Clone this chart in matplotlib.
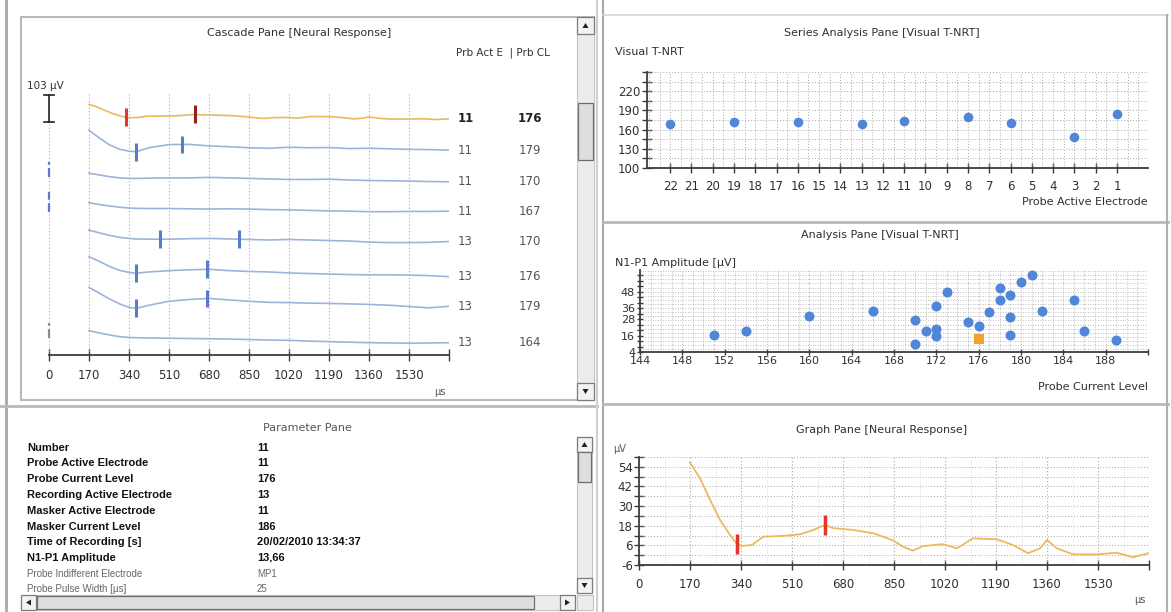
import numpy as np
import matplotlib
matplotlib.use('Agg')
import matplotlib.pyplot as plt
from matplotlib.patches import Rectangle, Polygon

W, H = 1171, 612

# ----------------------------
# Data
# ----------------------------
# selected recording (graph pane, also first row of cascade)
graph_t = [170, 203, 237, 270, 303, 326, 342, 376, 414, 481, 537, 581, 620, 648, 714, 781,
           847, 880, 913, 947, 1013, 1060, 1113, 1193, 1247, 1297, 1337, 1360, 1393, 1447,
           1527, 1593, 1647, 1697]
graph_uv = [56.6, 47.1, 33.8, 21.6, 12.4, 6.9, 5.6, 6.2, 11.3, 11.8, 12.8, 15.4, 18.5, 16.5,
            15.4, 13.4, 9.0, 5.2, 2.8, 5.6, 6.7, 4.2, 10.3, 9.7, 6.2, 1.2, 4.2, 9.3, 4.2,
            0.5, 0.5, 1.5, -1.3, 1.2]
graph_n1_t = 326
graph_p1_t = 620

# cascade pane rows
cascade_prb_act_e = [11, 11, 11, 11, 13, 13, 13, 13]
cascade_prb_cl = [176, 179, 170, 167, 170, 176, 179, 164]
cascade_offsets = [900, 795, 676, 559, 445, 317, 210, 65]   # µV, display offset per row
cascade_t = [170, 210, 255, 300, 340, 370, 425, 510, 595, 680, 765, 850, 935, 1020, 1105,
             1190, 1275, 1360, 1445, 1530, 1615, 1700]
cascade_rows = [
    [63, 36, 8, -10, -17, -19, -4, 8, 9, 3, 0, -4, -6, -2, -4, -3, -7, -6, -8, -10, -11, -13],
    [18, 12, 5, 0, -2, -2, -1, 0, 0, 2, 0, -2, -4, -6, -6, -5, -8, -10, -11, -12, -14, -15],
    [22, 16, 10, 5, 2, 1, 0, 0, -1, -2, -1, -2, -4, -5, -7, -9, -10, -12, -12, -11, -11, -10],
    [32, 22, 12, 4, 0, -2, -3, -3, -1, 0, -2, -4, -6, -4, -6, -8, -10, -14, -16, -16, -15, -12],
    [58, 42, 22, 6, -2, -5, 0, 5, 8, 10, 5, 2, 0, -4, -6, -8, -10, -11, -11, -12, -14, -18],
    [48, 28, 5, -15, -28, -32, -20, -5, 2, 6, 0, -5, -9, -10, -12, -13, -15, -17, -20, -25, -30, -24],
    [28, 20, 12, 5, 2, 1, 0, -1, -2, -3, -4, -6, -8, -9, -12, -14, -16, -18, -19, -20, -19, -18],
]
cascade_n1_t = [326, 370, None, None, 472, 370, 370, None]
cascade_p1_t = [620, 566, None, None, 808, 671, 671, None]
cascade_zero_marks = [(679, 737, 'b'), (546, 622, 'b'), (65, 122, 'g')]
scale_uv = 103
scale_base = 889

time_ticks = list(range(0, 1701, 170))
time_labels = [str(t) for t in time_ticks[:-1]] + ['']

# series analysis pane
series_electrode = [22, 19, 16, 13, 11, 8, 6, 3, 1]
series_tnrt = [169, 172, 172, 169, 174, 179, 171, 149, 185]
series_yticks = list(range(100, 251, 15))
series_ylabels = ['100', '', '130', '', '160', '', '190', '', '220', '', '']

# analysis pane
analysis_cl = [151, 154, 160, 166, 170, 170, 171, 172, 172, 172, 173, 175, 176, 177, 178,
               178, 179, 179, 179, 180, 181, 182, 185, 186, 189]
analysis_amp = [16.2, 19.1, 30.1, 33.7, 27.1, 9.6, 19.1, 37.9, 21.1, 15.5, 47.8, 25.9, 22.8,
                33.2, 50.7, 42.2, 45.4, 29.5, 16.2, 54.7, 60.5, 33.9, 41.7, 19.1, 13.1]
selected_cl = 176
selected_amp = 13.66
analysis_xticks = list(range(144, 193, 4))
analysis_yticks = list(range(4, 61, 4))
analysis_ylabels = ['4', '', '', '16', '', '', '28', '', '36', '', '', '48', '', '', '']

graph_yticks = list(range(-6, 61, 6))
graph_ylabels = ['-6', '', '6', '', '18', '', '30', '', '42', '', '54', '']

# parameter pane
param_names = ['Number', 'Probe Active Electrode', 'Probe Current Level',
               'Recording Active Electrode', 'Masker Active Electrode', 'Masker Current Level',
               'Time of Recording [s]', 'N1-P1 Amplitude', 'Probe Indifferent Electrode',
               'Probe Pulse Width [µs]']
param_values = ['11', '11', '176', '13', '11', '186', '20/02/2010 13:34:37', '13,66', 'MP1', '25']

# ----------------------------
# Style
# ----------------------------
FRAME = '#b9b9b9'
AXIS = '#3c3c3c'
GRID = '#a9a9a9'
TXT = '#303030'
ORANGE = '#ebb95f'
TRACE_BLUE = '#9db4d9'
MARK_BLUE = '#5a7cc8'
RED = '#e2352c'
DARK_RED = '#9a2020'
DOT_BLUE = '#4f86d9'
DOT_ORANGE = '#f0a22e'
FS = 8.5

plt.rcParams['font.family'] = ['DejaVu Sans']

fig = plt.figure(figsize=(W / 100, H / 100), dpi=100)
fig.patch.set_facecolor('white')

bg = fig.add_axes([0, 0, 1, 1])
bg.set_xlim(0, W)
bg.set_ylim(H, 0)
bg.axis('off')


def px_axes(l, t, r, b):
    return fig.add_axes([l / W, 1 - b / H, (r - l) / W, (b - t) / H])


def style_axes(ax, length=7, pad=5.5, ypad=1):
    ax.set_facecolor('none')
    for s in ['top', 'right']:
        ax.spines[s].set_visible(False)
    for s in ['left', 'bottom']:
        ax.spines[s].set_color(AXIS)
        ax.spines[s].set_linewidth(1.3)
    ax.tick_params(direction='inout', length=length, width=1, colors=AXIS,
                   labelsize=FS, labelcolor=TXT)
    ax.tick_params(axis='x', pad=pad)
    ax.tick_params(axis='y', pad=ypad)


def vscroll(x0, x1, y0, y1, th0, th1):
    w = x1 - x0
    bg.add_patch(Rectangle((x0, y0), w, y1 - y0, fc='#ececec', ec='#c4c4c4', lw=0.8))
    for yb, up in [(y0, True), (y1 - w, False)]:
        bg.add_patch(Rectangle((x0, yb), w, w, fc='#f2f2f2', ec='#7c7c7c', lw=0.9))
        cx, cy = x0 + w / 2, yb + w / 2
        d = 2.5 if up else -2.5
        bg.add_patch(Polygon([(cx - 3, cy + d), (cx + 3, cy + d), (cx, cy - d)], fc='#202020'))
    bg.add_patch(Rectangle((x0 + 1, th0), w - 2, th1 - th0, fc='#dedede', ec='#6e6e6e', lw=0.9))


def hscroll(x0, x1, y0, y1, th0, th1):
    h = y1 - y0
    bg.add_patch(Rectangle((x0, y0), x1 - x0, h, fc='#ececec', ec='#c4c4c4', lw=0.8, zorder=5))
    for xb, left in [(x0, True), (x1 - h, False)]:
        bg.add_patch(Rectangle((xb, y0), h, h, fc='#f2f2f2', ec='#7c7c7c', lw=0.9, zorder=6))
        cx, cy = xb + h / 2, y0 + h / 2
        d = 2.5 if left else -2.5
        bg.add_patch(Polygon([(cx + d, cy - 3), (cx + d, cy + 3), (cx - d, cy)], fc='#202020', zorder=7))
    bg.add_patch(Rectangle((th0, y0 + 1), th1 - th0, h - 2, fc='#dedede', ec='#6e6e6e', lw=0.9, zorder=6))


# ----------------------------
# Frames / window chrome
# ----------------------------
bg.plot([6, 6], [0, H], color='#a8a8a8', lw=2)
bg.add_patch(Rectangle((21, 17), 573, 383, fill=False, ec=FRAME, lw=1.5))
bg.plot([0, 597], [406, 406], color=FRAME, lw=2)
bg.plot([597, 597], [0, H], color='#d0d0d0', lw=1.5)
bg.plot([603, 603], [0, H], color='#a8a8a8', lw=1.5)
bg.plot([603, 1168], [15, 15], color='#d4d4d4', lw=1.2)
bg.plot([603, 1168], [222, 222], color=FRAME, lw=2)
bg.plot([603, 1168], [404, 404], color=FRAME, lw=2)
bg.plot([1167, 1167], [15, H], color='#b0b0b0', lw=1.5)

vscroll(577, 594, 17, 400, 103, 160)
vscroll(577, 592, 437, 593, 452, 482)
hscroll(21, 575, 595, 610, 37, 534)
bg.add_patch(Rectangle((577, 595), 16, 15, fc='#ececec', ec='#c4c4c4', lw=0.8, zorder=5))

# titles
bg.text(299, 33, 'Cascade Pane [Neural Response]', ha='center', va='center', fontsize=8, color=TXT)
bg.text(882, 33, 'Series Analysis Pane [Visual T-NRT]', ha='center', va='center', fontsize=8, color=TXT)
bg.text(880, 235, 'Analysis Pane [Visual T-NRT]', ha='center', va='center', fontsize=8, color=TXT)
bg.text(882, 430, 'Graph Pane [Neural Response]', ha='center', va='center', fontsize=8, color=TXT)
bg.text(307, 428, 'Parameter Pane', ha='center', va='center', fontsize=8, color='#555555')

# ----------------------------
# Cascade pane
# ----------------------------
ax_c = px_axes(49, 93, 449, 355)
ax_c.set_xlim(0, 1700)
ax_c.set_ylim(0, 1000)
style_axes(ax_c, length=8, pad=6)
ax_c.spines['left'].set_visible(False)
ax_c.set_yticks([])
ax_c.set_xticks(time_ticks)
ax_c.set_xticklabels(time_labels)
ax_c.vlines(time_ticks[1:], 0, 1000, colors=GRID, linestyles=(0, (1, 2)), lw=0.8)
ax_c.vlines([0], 0, scale_base - 4, colors=GRID, linestyles=(0, (1, 2)), lw=0.8)

for lo, hi, c in cascade_zero_marks:
    ax_c.plot([0, 0], [lo, hi], color=MARK_BLUE if c == 'b' else '#8a8a8a', lw=1.6,
              ls=(0, (4, 1.5)), clip_on=False)

# scale bar
ax_c.plot([0, 0], [scale_base, scale_base + scale_uv], color='#202020', lw=1.2, clip_on=False)
ax_c.plot([-22, 22], [scale_base, scale_base], color='#202020', lw=1.2, clip_on=False)
ax_c.plot([-22, 22], [scale_base + scale_uv, scale_base + scale_uv], color='#202020', lw=1.2, clip_on=False)
bg.text(27, 86, '103 µV', va='center', fontsize=7.5, color=TXT)
bg.text(456, 53, 'Prb Act E  | Prb CL', va='center', fontsize=7.5, color=TXT)

for i in range(8):
    if i == 0:
        t, v, col = graph_t, graph_uv, ORANGE
    else:
        t, v, col = cascade_t, cascade_rows[i - 1], TRACE_BLUE
    off = cascade_offsets[i]
    ax_c.plot(t, np.array(v) + off, color=col, lw=1.2, zorder=3)
    for tt, mcol in [(cascade_n1_t[i], RED if i == 0 else MARK_BLUE),
                     (cascade_p1_t[i], DARK_RED if i == 0 else MARK_BLUE)]:
        if tt is None:
            continue
        yc = off + np.interp(tt, t, v)
        ax_c.plot([tt, tt], [yc - 34, yc + 34], color=mcol, lw=2.2, solid_capstyle='butt', zorder=4)
    ye = off + v[-1]
    w = 'bold' if i == 0 else 'normal'
    ax_c.text(1735, ye, str(cascade_prb_act_e[i]), va='center', ha='left', fontsize=FS,
              color='#222222' if i == 0 else '#555555', weight=w, clip_on=False)
    ax_c.text(2045, ye, str(cascade_prb_cl[i]), va='center', ha='center', fontsize=FS,
              color='#222222' if i == 0 else '#555555', weight=w, clip_on=False)
bg.text(440, 392, 'µs', ha='center', va='center', fontsize=7, color='#555555')

# ----------------------------
# Series analysis pane
# ----------------------------
ax_s = px_axes(646.6, 72, 1148, 168)
ax_s.set_xlim(23.11, -0.46)
ax_s.set_ylim(100, 250)
style_axes(ax_s, length=7, pad=5.5)
ax_s.set_xticks(list(range(22, 0, -1)))
ax_s.set_xticklabels([str(e) for e in range(22, 0, -1)])
ax_s.set_yticks(series_yticks)
ax_s.set_yticklabels(series_ylabels)
ax_s.vlines(np.arange(0, 23.01, 0.5), 100, 250, colors=GRID, linestyles=(0, (1, 2)), lw=0.7)
ax_s.hlines(series_yticks[1:], -0.46, 23.11, colors=GRID, linestyles=(0, (1, 2)), lw=0.7)
ax_s.scatter(series_electrode, series_tnrt, s=48, color=DOT_BLUE, zorder=4, linewidths=0)
bg.text(615, 52, 'Visual T-NRT', va='center', fontsize=8, color=TXT)
bg.text(1148, 202, 'Probe Active Electrode', ha='right', va='center', fontsize=8, color=TXT)

# ----------------------------
# Analysis pane
# ----------------------------
ax_a = px_axes(640, 270, 1148, 352)
ax_a.set_xlim(144, 192)
ax_a.set_ylim(4, 63.8)
style_axes(ax_a, length=5, pad=0.5)
ax_a.tick_params(labelsize=8)
ax_a.set_xticks(analysis_xticks)
ax_a.set_xticklabels([str(x) for x in analysis_xticks[:-1]] + [''])
ax_a.set_yticks(analysis_yticks)
ax_a.set_yticklabels(analysis_ylabels)
ax_a.vlines(np.arange(145, 193, 1), 4, 63.8, colors=GRID, linestyles=(0, (1, 2)), lw=0.6)
ax_a.hlines(np.arange(6, 64, 3), 144, 192, colors=GRID, linestyles=(0, (1, 2)), lw=0.6)
ax_a.scatter(analysis_cl, analysis_amp, s=52, color=DOT_BLUE, zorder=4, linewidths=0, clip_on=False)
ax_a.scatter([selected_cl], [selected_amp], s=52, color=DOT_ORANGE, marker='s', zorder=5, linewidths=0)
bg.text(615, 263, 'N1-P1 Amplitude [µV]', va='center', fontsize=8, color=TXT)
bg.text(1148, 387, 'Probe Current Level', ha='right', va='center', fontsize=8, color=TXT)

# ----------------------------
# Graph pane
# ----------------------------
ax_g = px_axes(639, 457, 1149, 565)
ax_g.set_xlim(0, 1700)
ax_g.set_ylim(-6, 60)
style_axes(ax_g, length=7, pad=5.5)
ax_g.set_xticks(time_ticks)
ax_g.set_xticklabels(time_labels)
ax_g.set_yticks(graph_yticks)
ax_g.set_yticklabels(graph_ylabels)
ax_g.vlines(time_ticks[1:], -6, 60, colors=GRID, linestyles=(0, (1, 2)), lw=0.8)
ax_g.vlines(np.arange(85, 1700, 170), -6, 60, colors='#cfcfcf', linestyles=(0, (1, 2)), lw=0.6)
ax_g.hlines(graph_yticks[1:], 0, 1700, colors=GRID, linestyles=(0, (1, 2)), lw=0.7)
ax_g.plot(graph_t, graph_uv, color=ORANGE, lw=1.3, zorder=3)
for tt in [graph_n1_t, graph_p1_t]:
    yc = np.interp(tt, graph_t, graph_uv)
    ax_g.plot([tt, tt], [yc - 6, yc + 6], color=RED, lw=2.5, solid_capstyle='butt', zorder=4)
bg.text(613, 449, 'µV', va='center', fontsize=7, color='#555555')
bg.text(1140, 600, 'µs', ha='center', va='center', fontsize=7, color='#555555')

# ----------------------------
# Parameter pane
# ----------------------------
param_y = [448, 463, 479, 495, 511, 527, 542, 558, 574, 589]
for k, (name, val) in enumerate(zip(param_names, param_values)):
    if k < 8:
        kw = dict(fontsize=8, weight='bold', color='#111111', family='Liberation Sans')
    else:
        kw = dict(fontsize=7, color='#666666', family='Liberation Sans')
    bg.text(27, param_y[k], name, va='center', zorder=2, **kw)
    bg.text(257, param_y[k], val, va='center', zorder=2, **kw)

fig.savefig('out.png', dpi=100, facecolor='white')
